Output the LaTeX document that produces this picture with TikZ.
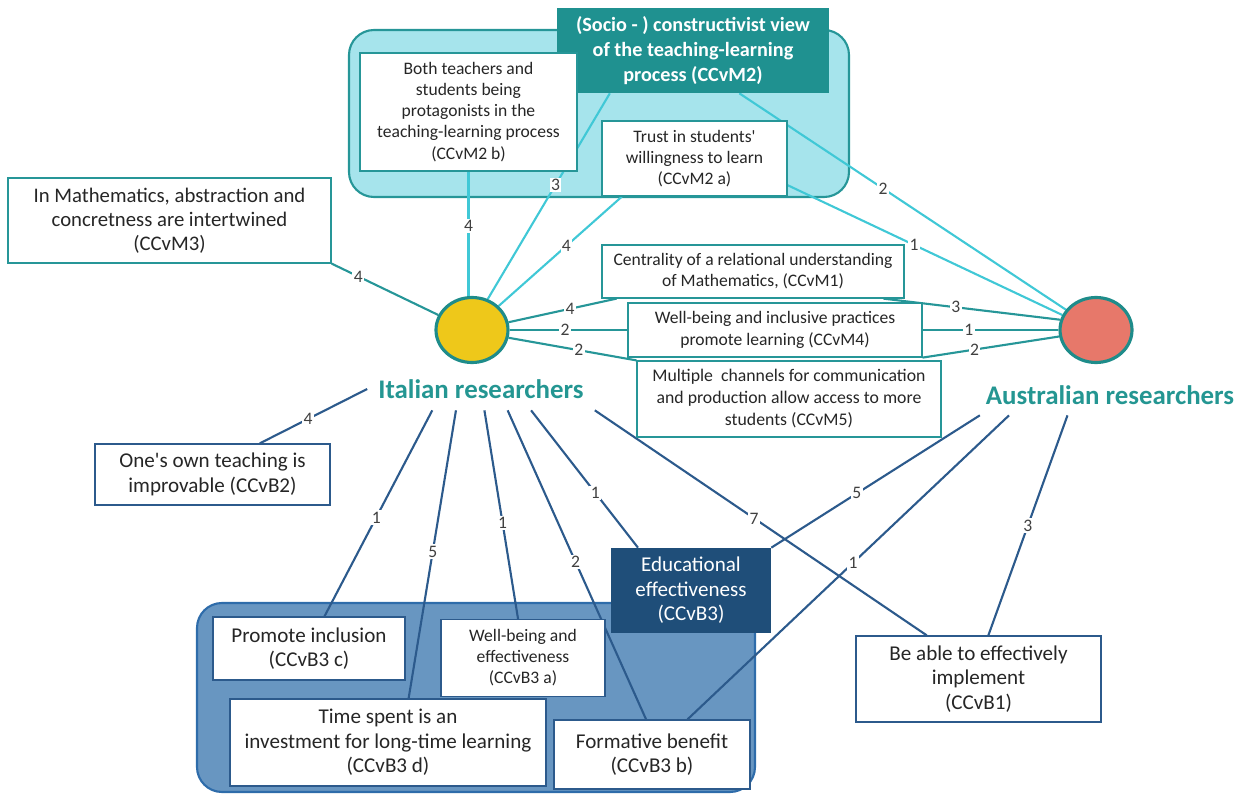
\documentclass[tikz,border=0pt]{standalone}
\usepackage{fontspec}
\setmainfont{Carlito}[Ligatures=TeXOff]
\usetikzlibrary{shapes.geometric,calc}

\definecolor{cyanline}{RGB}{64,200,214}
\definecolor{tealline}{RGB}{38,150,152}
\definecolor{blueline}{RGB}{44,90,140}
\definecolor{tealtext}{RGB}{36,150,146}
\definecolor{tealdark}{RGB}{30,140,138}
\definecolor{mgroup}{RGB}{166,228,236}
\definecolor{mhead}{RGB}{31,145,144}
\definecolor{bgroup}{RGB}{104,150,193}
\definecolor{bgroupline}{RGB}{46,108,170}
\definecolor{bhead}{RGB}{31,78,121}
\definecolor{sunyellow}{RGB}{238,200,26}
\definecolor{salmon}{RGB}{231,120,106}

\pgfdeclarelayer{groups}
\pgfdeclarelayer{links}
\pgfsetlayers{groups,links,main}

\newcommand{\fs}[2]{\fontsize{#1}{#2}\selectfont}

\begin{document}
\begin{tikzpicture}[x=0.02cm,y=-0.02cm,
    mbox/.style={draw=tealline,fill=white,align=center,inner sep=1pt,line width=0.7pt,text=black!85},
    bbox/.style={draw=blueline,fill=white,align=center,inner sep=1pt,line width=0.7pt,text=black!85},
    num/.style={fill=white,inner sep=0.8pt,text=black!75,font=\fs{10}{12}},
    mlink/.style={draw=cyanline,line width=1.2pt},
    tlink/.style={draw=tealline,line width=1.2pt},
    blink/.style={draw=blueline,line width=1.2pt},
    who/.style={ellipse,draw=tealdark,line width=1.8pt,inner sep=0pt},
    wholabel/.style={text=tealtext,font=\fs{15.3}{18}\bfseries,inner sep=0pt}]
    \useasboundingbox (0,0) rectangle (1242,794);

    % groups
    \begin{pgfonlayer}{groups}
        \draw[fill=mgroup,draw=tealline,line width=1.2pt,rounded corners=0.5cm] (349,30) rectangle (849,197);
        \draw[fill=bgroup,draw=bgroupline,line width=1.2pt,rounded corners=0.5cm] (197,603) rectangle (755,792);
    \end{pgfonlayer}

    % the two groups of researchers
    \node[who,fill=sunyellow,minimum width=1.44cm,minimum height=1.3cm] (ital) at (472,330) {};
    \node[who,fill=salmon,minimum width=1.44cm,minimum height=1.3cm] (aus) at (1096,330) {};
    \node[wholabel,minimum width=4.54cm,minimum height=0.84cm] (itlab) at (481,389) {Italian researchers};
    \node[wholabel,minimum width=5.3cm,minimum height=0.8cm] (auslab) at (1110,395) {Australian researchers};

    % CCvM boxes
    \node[fill=mhead,text=white,align=center,inner sep=1pt,font=\fs{11.5}{14}\bfseries,
        minimum width=5.44cm,minimum height=1.7cm] (hdr) at (693,50.5)
        {(Socio - ) constructivist view\\of the teaching-learning\\process (CCvM2)};
    \node[mbox,font=\fs{10}{12},minimum width=4.34cm,minimum height=2.36cm] (m2b) at (468.5,112)
        {Both teachers and\\students being\\protagonists in the\\teaching-learning process\\(CCvM2 b)};
    \node[mbox,font=\fs{10}{12},minimum width=3.7cm,minimum height=1.5cm] (m2a) at (694.5,158.5)
        {Trust in students'\\willingness to learn\\(CCvM2 a)};
    \node[mbox,font=\fs{11.8}{13.8},minimum width=6.46cm,minimum height=1.7cm] (m3) at (169.5,220.5)
        {In Mathematics, abstraction and\\concretness are intertwined\\(CCvM3)};
    \node[mbox,font=\fs{10}{12},minimum width=6.04cm,minimum height=1.06cm] (m1) at (753,271.5)
        {Centrality of a relational understanding\\of Mathematics, (CCvM1)};
    \node[mbox,font=\fs{10}{12.5},minimum width=5.88cm,minimum height=1.08cm] (m4) at (775,330)
        {Well-being and inclusive practices\\promote learning (CCvM4)};
    \node[mbox,font=\fs{10.1}{12.5},minimum width=6.08cm,minimum height=1.52cm] (m5) at (789,399)
        {Multiple~ channels for communication\\and production allow access to more\\students (CCvM5)};

    % CCvB boxes
    \node[bbox,font=\fs{12}{14},minimum width=4.7cm,minimum height=1.22cm] (b2) at (212.5,474.5)
        {One's own teaching is\\improvable (CCvB2)};
    \node[fill=bhead,text=white,align=center,inner sep=1pt,font=\fs{12}{14},
        minimum width=3.2cm,minimum height=1.7cm] (ee) at (691,590.5)
        {Educational\\effectiveness\\(CCvB3)};
    \node[bbox,font=\fs{12}{14},minimum width=3.84cm,minimum height=1.26cm] (b3c) at (309,648.5)
        {Promote inclusion\\(CCvB3 c)};
    \node[bbox,font=\fs{10}{12},minimum width=3.28cm,minimum height=1.54cm] (b3a) at (523,658)
        {Well-being and\\effectiveness\\(CCvB3 a)};
    \node[bbox,font=\fs{12}{14},minimum width=6.32cm,minimum height=1.74cm] (b3d) at (388,742.5)
        {Time spent is an\\investment for long-time learning\\(CCvB3 d)};
    \node[bbox,font=\fs{12}{14},minimum width=3.92cm,minimum height=1.38cm] (b3b) at (652,754.5)
        {Formative benefit\\(CCvB3 b)};
    \node[bbox,font=\fs{12}{14},minimum width=4.9cm,minimum height=1.72cm] (b1) at (978.5,679)
        {Be able to effectively\\implement\\(CCvB1)};

    \begin{pgfonlayer}{links}
        % Italian researchers, CCvM
        \draw[tlink] (m3.south east) -- node[num,pos=0.25] {4} (ital.156);
        \draw[mlink] (m2b.south) -- node[num,pos=0.44] {4} (m2b.south |- ital.north);
        \draw[mlink] ($(hdr.south west)!0.195!(hdr.south east)$) -- node[num,pos=0.445] {3} (ital.63);
        \draw[mlink] ($(m2a.south west)!0.11!(m2a.south east)$) -- node[num,pos=0.45] {4} (ital.42);
        \draw[tlink] ($(m1.south west)!0.05!(m1.south east)$) -- node[num,pos=0.43] {4} (ital.12);
        \draw[tlink] (m4.west) -- node[num,pos=0.53] {2} (ital.east);
        \draw[tlink] (m5.north west) -- node[num,pos=0.45] {2} (ital.-12);
        % Australian researchers, CCvM
        \draw[mlink] ($(hdr.south west)!0.67!(hdr.south east)$) -- node[num,pos=0.44] {2} (aus.146);
        \draw[mlink] ($(m2a.north east)!0.85!(m2a.south east)$) -- node[num,pos=0.46] {1} (aus.156);
        \draw[tlink] ($(m1.south west)!0.93!(m1.south east)$) -- node[num,pos=0.41] {3} (aus.164);
        \draw[tlink] (m4.east) -- node[num,pos=0.34] {1} (aus.west);
        \draw[tlink] (m4.south east) -- node[num,pos=0.38] {2} (aus.-170);
        % Italian researchers, CCvB
        \draw[blink] (itlab.west) -- node[num,pos=0.55] {4} ($(b2.north west)!0.7!(b2.north east)$);
        \draw[blink] ($(itlab.south west)!0.286!(itlab.south east)$) -- node[num,pos=0.52] {1} ($(b3c.north west)!0.58!(b3c.north east)$);
        \draw[blink] ($(itlab.south west)!0.39!(itlab.south east)$) -- node[num,pos=0.49] {5} ($(b3d.north west)!0.565!(b3d.north east)$);
        \draw[blink] ($(itlab.south west)!0.515!(itlab.south east)$) -- node[num,pos=0.54] {1} ($(b3a.north west)!0.47!(b3a.north east)$);
        \draw[blink] ($(itlab.south west)!0.617!(itlab.south east)$) -- node[num,pos=0.49] {2} ($(b3b.north west)!0.47!(b3b.north east)$);
        \draw[blink] ($(itlab.south west)!0.72!(itlab.south east)$) -- node[num,pos=0.6] {1} ($(ee.north west)!0.17!(ee.north east)$);
        \draw[blink] (itlab.south east) -- node[num,pos=0.48] {7} ($(b1.north west)!0.29!(b1.north east)$);
        % Australian researchers, CCvB
        \draw[blink] ($(auslab.south west)!0.01!(auslab.south east)$) -- node[num,pos=0.59] {5} (ee.north east);
        \draw[blink] ($(auslab.south west)!0.12!(auslab.south east)$) -- node[num,pos=0.485] {1} ($(b3b.north west)!0.68!(b3b.north east)$);
        \draw[blink] ($(auslab.south west)!0.34!(auslab.south east)$) -- node[num,pos=0.5] {3} ($(b1.north west)!0.54!(b1.north east)$);
    \end{pgfonlayer}
\end{tikzpicture}
\end{document}
